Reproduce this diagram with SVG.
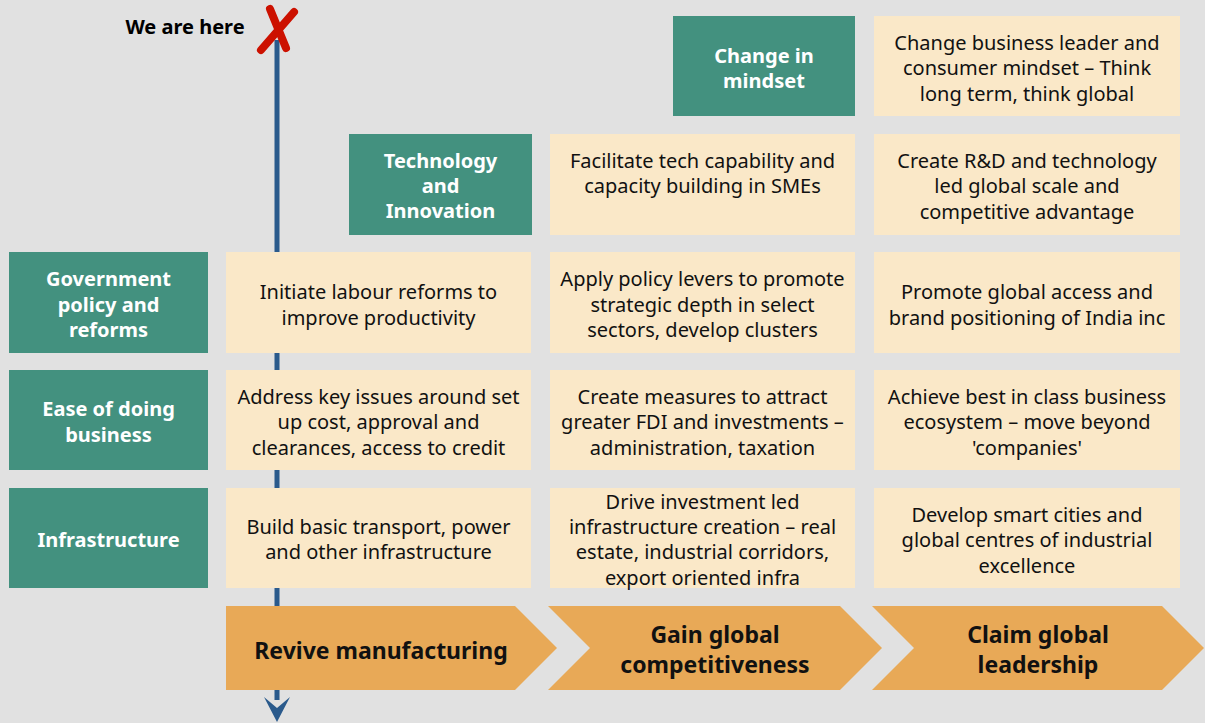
<svg xmlns="http://www.w3.org/2000/svg" width="1205" height="723" viewBox="0 0 1205 723">
<style>
.bg{fill:#e1e1e1}
.teal{fill:#43917f}
.cream{fill:#fae8c8}
.chev{fill:#e8a957}
text{font-family:"Noto Sans","Open Sans",sans-serif;text-anchor:middle;dominant-baseline:central}
.tt{fill:#ffffff;font-weight:bold;font-size:20px}
.ct{fill:#111111;font-size:20px}
.hd{fill:#111111;font-weight:bold;font-size:23px}
.we{fill:#000000;font-weight:bold;font-size:20px}
</style>
<rect class="bg" x="0" y="0" width="1205" height="723"/>
<g id="connectors">
<line x1="277" y1="40" x2="277" y2="700" stroke="#2a5a8c" stroke-width="5"/>
<path d="M264,697 L277,722 L290,697 L277,708 Z" fill="#2a5a8c"/>
</g>
<g id="marker-x">
<text class="we" x="185" y="26">We are here</text>
<path d="M270,9 L286,48" stroke="#cc1100" stroke-width="8" stroke-linecap="round" fill="none"/>
<path d="M294,12 L261,50" stroke="#cc1100" stroke-width="8" stroke-linecap="round" fill="none"/>
</g>
<g id="mindset">
<rect class="teal" x="673" y="16" width="182" height="100"/>
<text class="tt" x="764" y="55">Change in</text>
<text class="tt" x="764" y="80">mindset</text>
</g>
<g id="mindset-3">
<rect class="cream" x="874" y="16" width="306" height="100"/>
<text class="ct" x="1027" y="42">Change business leader and</text>
<text class="ct" x="1027" y="67">consumer mindset – Think</text>
<text class="ct" x="1027" y="93">long term, think global</text>
</g>
<g id="tech">
<rect class="teal" x="349" y="134" width="183" height="101"/>
<text class="tt" x="440.5" y="160">Technology</text>
<text class="tt" x="440.5" y="185">and</text>
<text class="tt" x="440.5" y="210">Innovation</text>
</g>
<g id="tech-2">
<rect class="cream" x="550" y="134" width="305" height="101"/>
<text class="ct" x="702.5" y="160">Facilitate tech capability and</text>
<text class="ct" x="702.5" y="185">capacity building in SMEs</text>
</g>
<g id="tech-3">
<rect class="cream" x="874" y="134" width="306" height="101"/>
<text class="ct" x="1027" y="160">Create R&amp;D and technology</text>
<text class="ct" x="1027" y="185">led global scale and</text>
<text class="ct" x="1027" y="211">competitive advantage</text>
</g>
<g id="gov">
<rect class="teal" x="9" y="252" width="199" height="101"/>
<text class="tt" x="108.5" y="278">Government</text>
<text class="tt" x="108.5" y="304">policy and</text>
<text class="tt" x="108.5" y="329">reforms</text>
</g>
<g id="gov-1">
<rect class="cream" x="226" y="252" width="305" height="101"/>
<text class="ct" x="378.5" y="291">Initiate labour reforms to</text>
<text class="ct" x="378.5" y="317">improve productivity</text>
</g>
<g id="gov-2">
<rect class="cream" x="550" y="252" width="305" height="101"/>
<text class="ct" x="702.5" y="278">Apply policy levers to promote</text>
<text class="ct" x="702.5" y="304">strategic depth in select</text>
<text class="ct" x="702.5" y="329">sectors, develop clusters</text>
</g>
<g id="gov-3">
<rect class="cream" x="874" y="252" width="306" height="101"/>
<text class="ct" x="1027" y="291">Promote global access and</text>
<text class="ct" x="1027" y="317">brand positioning of India inc</text>
</g>
<g id="ease">
<rect class="teal" x="9" y="370" width="199" height="100"/>
<text class="tt" x="108.5" y="408">Ease of doing</text>
<text class="tt" x="108.5" y="434">business</text>
</g>
<g id="ease-1">
<rect class="cream" x="226" y="370" width="305" height="100"/>
<text class="ct" x="378.5" y="396">Address key issues around set</text>
<text class="ct" x="378.5" y="421">up cost, approval and</text>
<text class="ct" x="378.5" y="447">clearances, access to credit</text>
</g>
<g id="ease-2">
<rect class="cream" x="550" y="370" width="305" height="100"/>
<text class="ct" x="702.5" y="396">Create measures to attract</text>
<text class="ct" x="702.5" y="421">greater FDI and investments –</text>
<text class="ct" x="702.5" y="447">administration, taxation</text>
</g>
<g id="ease-3">
<rect class="cream" x="874" y="370" width="306" height="100"/>
<text class="ct" x="1027" y="396">Achieve best in class business</text>
<text class="ct" x="1027" y="421">ecosystem – move beyond</text>
<text class="ct" x="1027" y="447">'companies'</text>
</g>
<g id="infra">
<rect class="teal" x="9" y="488" width="199" height="100"/>
<text class="tt" x="108.5" y="539">Infrastructure</text>
</g>
<g id="infra-1">
<rect class="cream" x="226" y="488" width="305" height="100"/>
<text class="ct" x="378.5" y="526">Build basic transport, power</text>
<text class="ct" x="378.5" y="551">and other infrastructure</text>
</g>
<g id="infra-2">
<rect class="cream" x="550" y="488" width="305" height="100"/>
<text class="ct" x="702.5" y="501">Drive investment led</text>
<text class="ct" x="702.5" y="526">infrastructure creation – real</text>
<text class="ct" x="702.5" y="551">estate, industrial corridors,</text>
<text class="ct" x="702.5" y="577">export oriented infra</text>
</g>
<g id="infra-3">
<rect class="cream" x="874" y="488" width="306" height="100"/>
<text class="ct" x="1027" y="514">Develop smart cities and</text>
<text class="ct" x="1027" y="539">global centres of industrial</text>
<text class="ct" x="1027" y="565">excellence</text>
</g>
<g id="stage-1">
<path class="chev" d="M226,606 L515,606 L557,648 L515,690 L226,690 Z"/>
<text class="hd" x="381" y="650">Revive manufacturing</text>
</g>
<g id="stage-2">
<path class="chev" d="M548,606 L840,606 L882,648 L840,690 L548,690 L590,648 Z"/>
<text class="hd" x="715" y="634">Gain global</text>
<text class="hd" x="715" y="664">competitiveness</text>
</g>
<g id="stage-3">
<path class="chev" d="M872,606 L1162,606 L1204,648 L1162,690 L872,690 L914,648 Z"/>
<text class="hd" x="1038" y="634">Claim global</text>
<text class="hd" x="1038" y="664">leadership</text>
</g>
</svg>
